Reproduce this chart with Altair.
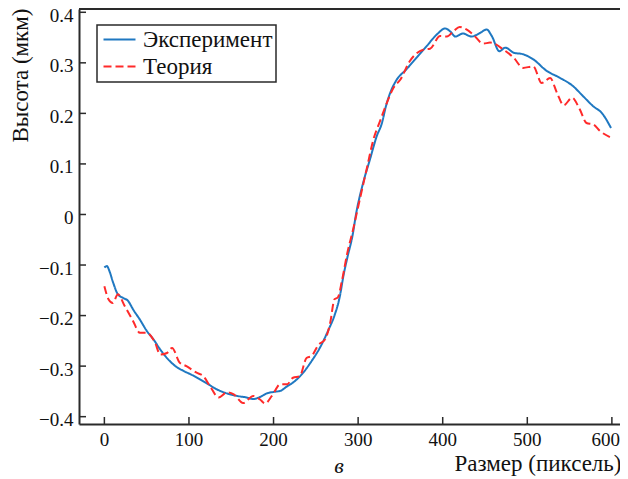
import altair as alt
import pandas as pd

# ---- data ----
EXP_X = [0, 3, 6, 10, 16, 22, 28, 34, 42, 50, 58, 66, 74, 84, 93, 103, 113, 123, 133, 145,
         157, 168, 176, 184, 192, 200, 208, 216, 225, 235, 245, 255, 265, 272, 278, 283, 288,
         293, 298, 306, 314, 322, 328, 333, 338, 345, 357, 369, 381, 393, 403, 409, 415, 424,
         434, 444, 452, 458, 467, 474, 484, 495, 507, 523, 539, 554, 566, 578, 588, 599]
EXP_Y = [-0.105, -0.102, -0.112, -0.133, -0.158, -0.165, -0.171, -0.188, -0.208, -0.230,
         -0.247, -0.267, -0.284, -0.300, -0.309, -0.317, -0.326, -0.336, -0.346, -0.354,
         -0.359, -0.362, -0.365, -0.361, -0.354, -0.351, -0.349, -0.340, -0.330, -0.313,
         -0.290, -0.263, -0.228, -0.200, -0.165, -0.118, -0.080, -0.045, 0.005, 0.063,
         0.109, 0.155, 0.180, 0.215, 0.241, 0.265, 0.287, 0.310, 0.333, 0.356, 0.368,
         0.362, 0.352, 0.358, 0.352, 0.359, 0.366, 0.353, 0.323, 0.330, 0.320, 0.317,
         0.307, 0.284, 0.270, 0.254, 0.234, 0.214, 0.201, 0.171]

TH_X = [0, 5, 10, 16, 24, 34, 42, 50, 60, 66, 74, 80, 89, 97, 109, 117, 125, 135, 145, 153,
        164, 176, 184, 190, 198, 208, 216, 223, 231, 239, 245, 253, 261, 267, 272, 276, 281,
        287, 294, 302, 310, 318, 326, 334, 342, 350, 361, 377, 385, 397, 405, 413, 420, 428,
        436, 448, 456, 472, 484, 495, 507, 517, 527, 535, 543, 553, 562, 570, 578, 586, 599]
TH_Y = [-0.142, -0.168, -0.175, -0.158, -0.181, -0.211, -0.234, -0.234, -0.254, -0.277,
        -0.274, -0.264, -0.293, -0.300, -0.313, -0.320, -0.340, -0.362, -0.352, -0.356,
        -0.373, -0.359, -0.366, -0.374, -0.359, -0.336, -0.336, -0.323, -0.320, -0.284,
        -0.280, -0.258, -0.247, -0.214, -0.168, -0.164, -0.130, -0.078, -0.030, 0.030,
        0.089, 0.148, 0.185, 0.221, 0.251, 0.267, 0.303, 0.326, 0.328, 0.353, 0.352,
        0.363, 0.371, 0.366, 0.356, 0.338, 0.340, 0.326, 0.310, 0.290, 0.293, 0.260,
        0.270, 0.241, 0.216, 0.231, 0.208, 0.181, 0.178, 0.165, 0.152]

SERIES = ["Эксперимент", "Теория"]
COLORS = ["#1f78c1", "#ff2a2a"]
DASHES = [[1, 0], [8, 4]]

X_TICKS = [0, 100, 200, 300, 400, 500, 600]
X_LABELS = ["0", "100", "200", "300", "400", "500", "600"]
Y_TICKS = [-0.4, -0.3, -0.2, -0.1, 0, 0.1, 0.2, 0.3, 0.4]

X_DOMAIN = [-30, 609.6]
Y_DOMAIN = [-0.4145, 0.4065]

W, H = 541, 415
FONT = "Liberation Serif"
INK = "#111"
AX = "#2a2a2a"

df = pd.concat([
    pd.DataFrame({"x": EXP_X, "y": EXP_Y, "s": SERIES[0], "o": range(len(EXP_X))}),
    pd.DataFrame({"x": TH_X, "y": TH_Y, "s": SERIES[1], "o": range(len(TH_X))}),
])

xs = alt.Scale(domain=X_DOMAIN, nice=False, zero=False)
ys = alt.Scale(domain=Y_DOMAIN, nice=False, zero=False)

x_axis = alt.Axis(
    values=X_TICKS, tickSize=0, labels=False, domainColor=AX, domainWidth=2, grid=False,
    title="Размер (пиксель)", titleFont=FONT, titleFontSize=23, titleFontWeight="normal",
    titleColor=INK, titleAlign="right", titleBaseline="alphabetic",
    titleX=542, titleY=46)
y_axis = alt.Axis(
    values=Y_TICKS, tickSize=0, labelPadding=6, labelFontSize=19, labelFont=FONT,
    labelColor=INK, domainColor=AX, domainWidth=2, grid=False,
    labelOffset=3,
    labelExpr="datum.value == 0 ? '0' : replace(format(datum.value, '.1f'), '-', '\u2212')",
    title="Высота (мкм)", titleFont=FONT, titleFontSize=23, titleFontWeight="normal",
    titleColor=INK, titleAngle=-90, titleAlign="right", titleBaseline="alphabetic",
    titleX=-52, titleY=-1)

lines = alt.Chart(df).mark_line(strokeWidth=2, clip=True, interpolate="monotone").encode(
    x=alt.X("x:Q", scale=xs, axis=x_axis),
    y=alt.Y("y:Q", scale=ys, axis=y_axis),
    color=alt.Color("s:N", scale=alt.Scale(domain=SERIES, range=COLORS), title=None,
                    legend=alt.Legend(orient="none", legendX=18, legendY=16)),
    strokeDash=alt.StrokeDash("s:N", scale=alt.Scale(domain=SERIES, range=DASHES), title=None,
                              legend=alt.Legend(orient="none", legendX=18, legendY=16)),
    order="o:Q",
)

yt = alt.Chart(pd.DataFrame({"y": Y_TICKS})).mark_rule(color=AX, strokeWidth=1.5).encode(
    y=alt.Y("y:Q", scale=ys, axis=y_axis), x=alt.value(0), x2=alt.value(7))
xt = alt.Chart(pd.DataFrame({"x": X_TICKS})).mark_rule(color=AX, strokeWidth=1.5).encode(
    x=alt.X("x:Q", scale=xs, axis=x_axis), y=alt.value(H - 7), y2=alt.value(H))

tick_df = pd.DataFrame({"x": X_TICKS, "t": X_LABELS})
xl_mid = alt.Chart(tick_df.iloc[:-1]).mark_text(
    font=FONT, fontSize=19, color=INK, baseline="alphabetic", align="center").encode(
    x=alt.X("x:Q", scale=xs, axis=x_axis), y=alt.value(H + 22), text="t:N")
xl_end = alt.Chart(tick_df.iloc[-1:]).mark_text(
    font=FONT, fontSize=19, color=INK, baseline="alphabetic", align="right", dx=8).encode(
    x=alt.X("x:Q", scale=xs, axis=x_axis), y=alt.value(H + 22), text="t:N")

top = alt.Chart(pd.DataFrame({"a": [0]})).mark_rule(color=AX, strokeWidth=2).encode(
    y=alt.value(0), x=alt.value(0), x2=alt.value(W))
lab = alt.Chart(pd.DataFrame({"t": ["в"]})).mark_text(
    font=FONT, fontSize=22, fontStyle="italic", color=INK, baseline="alphabetic",
    align="center").encode(text="t:N", x=alt.value(260), y=alt.value(464))

chart = alt.layer(lines, yt, xt, xl_mid, xl_end, top, lab).properties(
    width=W, height=H,
    autosize=alt.AutoSizeParams(type="none"),
    padding={"left": 71, "top": 1, "right": 0, "bottom": 55},
).configure_view(stroke=None).configure_legend(
    labelFont=FONT, labelFontSize=23, labelColor=INK,
    strokeColor=AX, strokeWidth=1.5, fillColor="white",
    padding=3, symbolType="M-1,0H3", symbolSize=256, symbolStrokeWidth=2,
    labelOffset=20, rowPadding=3, cornerRadius=0, labelLimit=400,
)

chart.save("out.html", embed_options={"renderer": "svg", "actions": False})
